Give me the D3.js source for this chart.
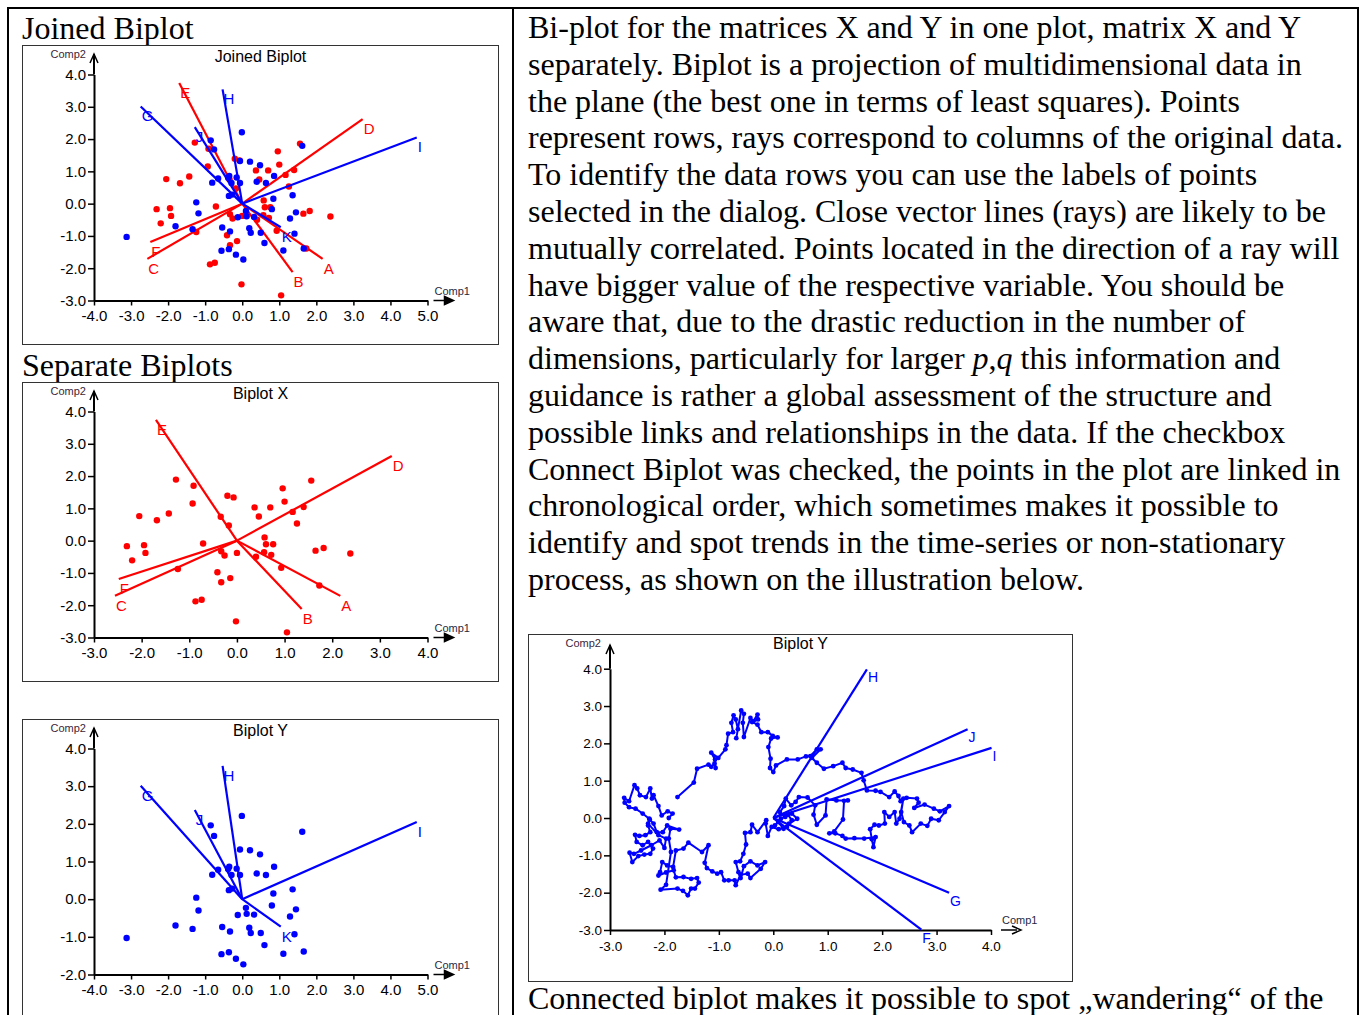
<!DOCTYPE html>
<html>
<head>
<meta charset="utf-8">
<script src="https://cdn.jsdelivr.net/npm/d3@7"></script>
<style>
  body { margin: 0; background: #fff; }
  svg { display: block; }
</style>
</head>
<body>
<svg id="page" width="1362" height="1015"></svg>
<script>

// ---- data ----

// Biplot X : rows (red points) and column rays A..F
var pointsX = [
  [-2.31,-0.17],[-2.20,-0.61],[-2.05,0.76],[-1.95,-0.14],[-1.92,-0.38],[-1.68,0.63],
  [-1.43,0.84],[-1.28,1.89],[-1.24,-0.88],[-0.91,1.70],[-0.93,1.15],[-0.87,-1.88],
  [-0.74,-1.83],[-0.71,-0.09],[-0.41,-0.98],[-0.34,0.74],[-0.33,-1.29],[-0.33,-0.33],
  [-0.26,-0.46],[-0.20,1.39],[-0.17,0.47],[-0.14,-1.16],[-0.07,1.34],[0.00,-0.38],
  [-0.02,-2.50],[0.37,1.03],[0.40,-0.50],[0.46,0.75],[0.58,0.10],[0.61,-0.11],
  [0.57,-0.36],[0.70,1.03],[0.72,-0.44],[0.76,-0.11],[0.93,-0.84],[0.96,1.62],
  [1.00,1.21],[1.05,-2.84],[1.17,0.89],[1.26,0.53],[1.40,1.04],[1.56,1.86],
  [1.65,-0.31],[1.73,-1.39],[1.82,-0.23],[2.38,-0.40]
];
var raysX = [
  ["A",2.17,-1.71],["B",1.36,-2.12],["C",-2.56,-1.71],
  ["D",3.25,2.62],["E",-1.70,3.74],["F",-2.48,-1.19]
];

// Biplot Y : rows (blue points) and column rays G..K
var pointsY = [
  [-3.12,-1.03],[-1.80,-0.70],[-1.34,-0.79],[-1.24,0.04],[-1.18,-0.30],[-0.85,1.96],
  [-0.76,1.68],[-0.81,0.65],[-0.65,0.78],[-0.56,-1.46],[-0.54,-0.74],[-0.36,-1.41],
  [-0.35,0.86],[-0.38,0.80],[-0.33,-0.86],[-0.36,0.24],[-0.27,0.28],[-0.29,0.64],
  [-0.17,-1.58],[-0.15,0.81],[-0.12,-0.42],[-0.06,1.32],[-0.06,0.64],[-0.01,2.21],
  [0.03,-1.73],[0.10,-0.23],[0.12,-0.39],[0.19,-0.76],[0.21,1.30],[0.23,-0.90],
  [0.32,-0.41],[0.39,0.68],[0.48,1.19],[0.50,-0.90],[0.60,-1.22],[0.64,0.64],
  [0.80,-0.17],[0.84,0.15],[0.86,0.86],[1.11,-1.45],[1.29,-0.46],[1.36,0.26],
  [1.41,-0.93],[1.45,-0.27],[1.62,1.79],[1.66,-1.39]
];
var raysY = [
  ["G",-2.74,3.01],["H",-0.53,3.54],["I",4.71,2.05],["J",-1.28,2.37],["K",1.04,-0.73]
];

// connected Biplot Y (time series, in chronological order) and its rays
var pathYc = [
  [-1.76,0.56],[-1.46,0.95],[-1.40,1.32],[-1.19,1.43],[-1.14,1.37],[-1.08,1.46],[-1.06,1.34],
  [-1.07,1.57],[-1.14,1.75],[-1.01,1.61],[-0.88,1.84],[-0.86,1.95],[-0.83,2.26],[-0.74,2.30],
  [-0.77,2.55],[-0.73,2.75],[-0.69,2.64],[-0.65,2.38],[-0.68,2.14],[-0.59,2.88],[-0.54,2.79],
  [-0.56,2.55],[-0.54,2.17],[-0.42,2.68],[-0.37,2.59],[-0.29,2.77],[-0.28,2.64],[-0.39,2.57],
  [-0.29,2.50],[-0.22,2.30],[-0.10,2.30],[-0.01,2.20],[0.08,2.16],[-0.04,2.13],[-0.09,1.90],
  [-0.05,1.59],[-0.06,1.34],[0.00,1.23],[0.05,1.41],[0.25,1.57],[0.45,1.57],[0.60,1.65],
  [0.68,1.66],[0.80,1.84],[0.87,1.84],[0.71,1.61],[0.80,1.48],[0.93,1.32],[1.10,1.39],
  [1.27,1.48],[1.33,1.34],[1.46,1.30],[1.62,1.21],[1.66,1.01],[1.72,0.74],[1.88,0.73],
  [1.97,0.70],[2.13,0.56],[2.23,0.71],[2.30,0.59],[2.34,0.45],[2.45,0.54],[2.64,0.52],
  [2.67,0.41],[2.59,0.27],[2.78,0.36],[2.95,0.25],[3.06,0.18],[3.23,0.32],[3.15,0.16],
  [3.04,-0.06],[2.90,-0.02],[2.83,-0.21],[2.71,-0.15],[2.55,-0.38],[2.50,-0.20],[2.40,-0.11],
  [2.35,0.16],[2.39,0.52],[2.32,-0.02],[2.26,-0.15],[2.23,0.16],[2.13,0.03],[2.04,0.16],
  [2.05,-0.15],[1.94,-0.20],[1.86,-0.18],[1.78,-0.30],[1.81,-0.57],[1.84,-0.78],[1.88,-0.51],
  [1.67,-0.55],[1.49,-0.54],[1.33,-0.55],[1.27,-0.48],[1.14,-0.41],[1.03,-0.41],[1.12,-0.36],
  [1.28,-0.04],[1.30,0.46],[1.37,0.47],[1.16,0.47],[0.98,0.50],[0.96,0.07],[0.80,-0.18],
  [0.74,0.09],[0.77,0.34],[0.63,0.55],[0.47,0.56],[0.41,0.43],[0.33,0.34],[0.23,0.52],
  [0.20,0.32],[0.12,0.16],[0.22,0.03],[0.34,0.12],[0.44,-0.02],[0.29,-0.15],[0.19,-0.29],
  [0.09,-0.11],[0.03,-0.20],[0.14,-0.02],[0.27,0.09],[0.34,-0.06],[0.25,-0.24],[0.10,-0.30],
  [-0.03,-0.24],[-0.10,-0.48],[-0.14,-0.15],[-0.13,-0.06],[-0.29,-0.38],[-0.39,-0.18],
  [-0.42,-0.38],[-0.52,-0.40],[-0.50,-0.71],[-0.55,-0.96],[-0.61,-1.16],[-0.69,-1.18],
  [-0.64,-1.45],[-0.60,-1.61],[-0.54,-1.29],[-0.42,-1.16],[-0.29,-1.27],[-0.15,-1.18],
  [-0.23,-1.36],[-0.42,-1.61],[-0.47,-1.49],[-0.60,-1.52],[-0.69,-1.80],[-0.71,-1.67],
  [-0.82,-1.67],[-0.90,-1.67],[-0.96,-1.45],[-1.03,-1.49],[-1.12,-1.43],[-1.22,-1.34],
  [-1.26,-1.20],[-1.19,-0.73],[-1.31,-0.91],[-1.56,-0.66],[-1.65,-0.82],[-1.79,-0.87],
  [-1.84,-1.31],[-1.95,-1.27],[-2.04,-1.18],[-2.08,-1.45],[-2.11,-1.54],[-1.97,-1.46],
  [-1.83,-1.40],[-1.79,-1.59],[-1.65,-1.58],[-1.51,-1.63],[-1.40,-1.61],[-1.37,-1.73],
  [-1.44,-1.89],[-1.51,-1.89],[-1.57,-2.07],[-1.66,-1.95],[-1.76,-1.89],[-2.07,-1.92],
  [-1.97,-1.79],[-1.88,-0.91],[-1.92,-0.55],[-1.89,-0.29],[-1.73,-0.31],[-1.95,-0.20],
  [-2.03,-0.38],[-2.14,-0.38],[-2.20,-0.15],[-2.27,-0.04],[-2.30,-0.20],[-2.26,-0.38],
  [-2.35,-0.46],[-2.46,-0.48],[-2.54,-0.45],[-2.51,-0.64],[-2.40,-0.73],[-2.30,-0.64],
  [-2.21,-0.82],[-2.26,-0.96],[-2.37,-0.98],[-2.48,-1.02],[-2.59,-1.18],[-2.64,-0.93],
  [-2.56,-0.96],[-2.43,-0.87],[-2.24,-0.73],[-2.09,-0.60],[-2.00,-0.80],[-1.97,-0.55],
  [-2.11,-0.46],[-2.30,-0.15],[-2.28,-0.02],[-2.40,0.12],[-2.53,0.25],[-2.65,0.29],
  [-2.73,0.41],[-2.74,0.54],[-2.65,0.45],[-2.55,0.88],[-2.50,0.79],[-2.45,0.61],
  [-2.34,0.56],[-2.26,0.79],[-2.23,0.52],[-2.20,0.61],[-2.11,0.32],[-2.05,0.07],
  [-1.94,0.18],[-1.85,0.12],[-1.92,0.00]
];
var raysYc = [
  ["H",1.72,3.98],["J",3.57,2.38],["I",4.01,1.88],["G",3.23,-2.00],["F",2.72,-2.99]
];

// tick values of the axes
var ticksWide = [-4,-3,-2,-1,0,1,2,3,4,5];
var ticksNarrow = [-3,-2,-1,0,1,2,3,4];
var ticksUp = [-3,-2,-1,0,1,2,3,4];
var ticksUpShort = [-2,-1,0,1,2,3,4];

// text of the page
var headings = ["Joined Biplot", "Separate Biplots"];
var textLines = [
  "Bi-plot for the matrices X and Y in one plot, matrix X and Y",
  "separately. Biplot is a projection of multidimensional data in",
  "the plane (the best one in terms of least squares). Points",
  "represent rows, rays correspond to columns of the original data.",
  "To identify the data rows you can use the labels of points",
  "selected in the dialog. Close vector lines (rays) are likely to be",
  "mutually correlated. Points located in the direction of a ray will",
  "have bigger value of the respective variable. You should be",
  "aware that, due to the drastic reduction in the number of",
  "dimensions, particularly for larger _p_,_q_ this information and",
  "guidance is rather a global assessment of the structure and",
  "possible links and relationships in the data. If the checkbox",
  "Connect Biplot was checked, the points in the plot are linked in",
  "chronological order, which sometimes makes it possible to",
  "identify and spot trends in the time-series or non-stationary",
  "process, as shown on the illustration below."
];
var lastLine = "Connected biplot makes it possible to spot \u201Ewandering\u201C of the";

var RED = "#ff0000", BLUE = "#0000ff";
var SANS = "'Liberation Sans', Arial, sans-serif";
var SERIF = "'Liberation Serif', 'Times New Roman', serif";

var svg = d3.select("#page");

// table frame
svg.append("path")
  .attr("d", "M8,1015V8H1358V1015M513,8V1015")
  .attr("fill", "none").attr("stroke", "#000").attr("stroke-width", 2);

// serif text
var serif = svg.append("g").attr("font-family", SERIF).attr("font-size", 32).attr("fill", "#000");
serif.append("text").attr("x", 22).attr("y", 39).text(headings[0]);
serif.append("text").attr("x", 22).attr("y", 376).text(headings[1]);

textLines.forEach(function (line, i) {
  var t = serif.append("text").attr("x", 528).attr("y", 38 + i * 36.8);
  line.split("_").forEach(function (part, k) {
    t.append("tspan").attr("font-style", k % 2 ? "italic" : null).text(part);
  });
});
serif.append("text").attr("x", 528).attr("y", 1009).text(lastLine);

var fmt = function (d) { return d.toFixed(1); };

function biplot(c) {
  var g = svg.append("g")
    .attr("transform", "translate(" + c.left + "," + c.top + ")")
    .attr("font-family", SANS);

  g.append("rect")
    .attr("x", 0.5).attr("y", 0.5).attr("width", c.w - 1).attr("height", c.h - 1)
    .attr("fill", "#fff").attr("stroke", "#333");

  var x = d3.scaleLinear().domain(d3.extent(c.xTicks)).range([c.plot[0], c.plot[1]]);
  var y = d3.scaleLinear().domain(d3.extent(c.yTicks)).range([c.plot[3], c.plot[2]]);

  g.append("text")
    .attr("x", c.w / 2).attr("y", c.titleY)
    .attr("text-anchor", "middle").attr("font-size", 16).attr("fill", "#000")
    .text(c.title);

  var ax = g.append("g")
    .attr("transform", "translate(0," + c.plot[3] + ")")
    .call(d3.axisBottom(x).tickValues(c.xTicks).tickFormat(fmt)
      .tickSizeInner(5).tickSizeOuter(0).tickPadding(c.pad));
  var ay = g.append("g")
    .attr("transform", "translate(" + c.plot[0] + ",0)")
    .call(d3.axisLeft(y).tickValues(c.yTicks).tickFormat(fmt)
      .tickSizeInner(6).tickSizeOuter(0).tickPadding(2));

  [ax, ay].forEach(function (a) {
    a.attr("font-family", SANS).attr("font-size", c.tickFont);
    a.select(".domain").attr("stroke", "#000").attr("stroke-width", 2);
    a.selectAll(".tick line").attr("stroke", "#000").attr("stroke-width", 1.5);
    a.selectAll(".tick text").attr("fill", "#000");
  });

  // y axis runs on to an arrow
  var x0 = c.plot[0], yb = c.plot[3], x1 = c.plot[1];
  g.append("line")
    .attr("x1", x0).attr("x2", x0).attr("y1", c.plot[2]).attr("y2", c.arrowTop)
    .attr("stroke", "#000").attr("stroke-width", 2);
  g.append("path")
    .attr("d", "M" + (x0 - 4) + "," + (c.arrowTop + 9) + "L" + x0 + "," + c.arrowTop +
      "L" + (x0 + 4) + "," + (c.arrowTop + 9))
    .attr("fill", "none").attr("stroke", "#000").attr("stroke-width", 1.5);

  // detached arrow after the x axis
  var a0 = x1 + c.arrowGap, a1 = x1 + c.arrowGap + c.arrowLen;
  g.append("line")
    .attr("x1", a0).attr("x2", a1 - 4).attr("y1", yb).attr("y2", yb)
    .attr("stroke", "#000").attr("stroke-width", 1.5);
  g.append("path")
    .attr("d", "M" + (a1 - 9) + "," + (yb - 4) + "L" + a1 + "," + yb + "L" + (a1 - 9) + "," + (yb + 4) +
      (c.filledHead ? "Z" : ""))
    .attr("fill", c.filledHead ? "#000" : "none").attr("stroke", "#000").attr("stroke-width", 1.5);

  g.append("text")
    .attr("x", c.comp2X).attr("y", 13).attr("text-anchor", "end")
    .attr("font-size", c.compFont).attr("fill", "#3b1f3a").text("Comp2");
  g.append("text")
    .attr("x", a0 + 1).attr("y", yb - 6)
    .attr("font-size", c.compFont).attr("fill", "#1f2a3f").text("Comp1");

  c.series.forEach(function (s) {
    var layer = g.append("g");
    if (s.path) {
      layer.append("path")
        .datum(s.path)
        .attr("d", d3.line().x(function (d) { return x(d[0]); }).y(function (d) { return y(d[1]); }))
        .attr("fill", "none").attr("stroke", s.color).attr("stroke-width", 2)
        .attr("stroke-linejoin", "round");
    }
    layer.selectAll("circle.pt")
      .data(s.points)
      .enter().append("circle")
      .attr("class", "pt")
      .attr("cx", function (d) { return x(d[0]); })
      .attr("cy", function (d) { return y(d[1]); })
      .attr("r", s.r)
      .attr("fill", s.color);

    layer.selectAll("line.ray")
      .data(s.rays)
      .enter().append("line")
      .attr("class", "ray")
      .attr("x1", x(0)).attr("y1", y(0))
      .attr("x2", function (d) { return x(d[1]); })
      .attr("y2", function (d) { return y(d[2]); })
      .attr("stroke", s.color).attr("stroke-width", 2.2);

    layer.selectAll("text.lab")
      .data(s.rays)
      .enter().append("text")
      .attr("class", "lab")
      .attr("x", function (d) { return x(d[1]) + 1; })
      .attr("y", function (d) { return y(d[2]) + c.labelDy; })
      .attr("font-size", c.labelFont)
      .attr("fill", s.color)
      .text(function (d) { return d[0]; });
  });
}

var small = {
  w: 477, h: 300, plot: [72, 405.5, 29.5, 255.5],
  titleY: 17, arrowTop: 9, arrowGap: 6, arrowLen: 20, filledHead: true,
  comp2X: 64, compFont: 11, tickFont: 15, labelFont: 15, labelDy: 15, pad: 5
};

biplot(Object.assign({}, small, {
  left: 22, top: 45, title: "Joined Biplot",
  xTicks: ticksWide, yTicks: ticksUp,
  series: [
    { points: pointsX, rays: raysX, color: RED, r: 3.2 },
    { points: pointsY, rays: raysY, color: BLUE, r: 3.2 }
  ]
}));

biplot(Object.assign({}, small, {
  left: 22, top: 382, title: "Biplot X",
  xTicks: ticksNarrow, yTicks: ticksUp,
  series: [{ points: pointsX, rays: raysX, color: RED, r: 3.2 }]
}));

biplot(Object.assign({}, small, {
  left: 22, top: 719, title: "Biplot Y",
  xTicks: ticksWide, yTicks: ticksUpShort,
  series: [{ points: pointsY, rays: raysY, color: BLUE, r: 3.2 }]
}));

biplot({
  left: 528, top: 634, w: 545, h: 348, plot: [82, 463, 34.7, 296],
  titleY: 15, arrowTop: 11, arrowGap: 10, arrowLen: 20, filledHead: false,
  comp2X: 73, compFont: 11, tickFont: 13.5, labelFont: 14, labelDy: 13, pad: 6,
  title: "Biplot Y",
  xTicks: ticksNarrow, yTicks: ticksUp,
  series: [{ points: pathYc, path: pathYc, rays: raysYc, color: BLUE, r: 2.4 }]
});

</script>
</body>
</html>
